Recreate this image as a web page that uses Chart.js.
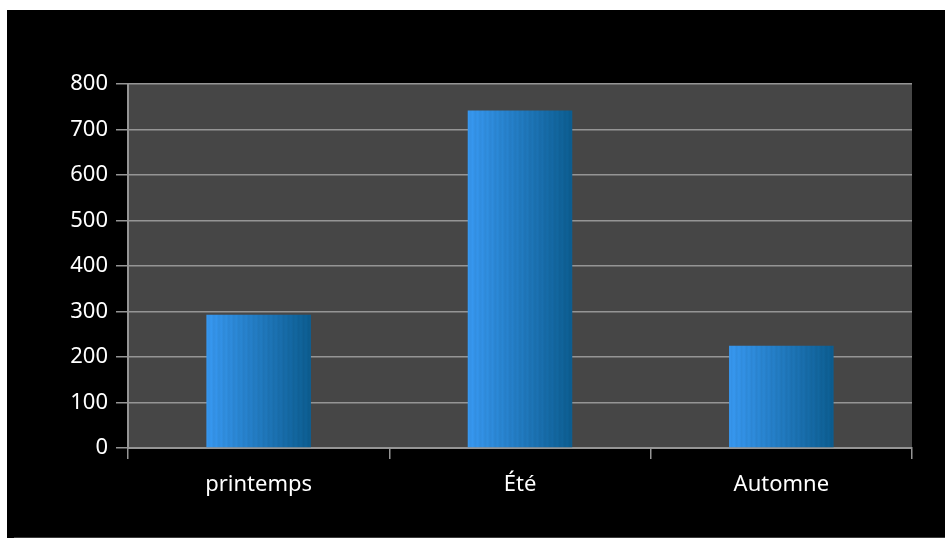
<!DOCTYPE html>
<html>
<head>
<meta charset="utf-8">
<script src="https://cdn.jsdelivr.net/npm/chart.js@4/dist/chart.umd.min.js"></script>
<style>
  html, body { margin: 0; padding: 0; background: #fff; width: 945px; height: 540px; overflow: hidden; }
  #wrap { position: absolute; left: 7px; top: 10px; width: 938px; height: 528px; background: #000; }
  #foot { position: absolute; left: 14px; top: 537px; width: 931px; height: 1px; background: #3c3c3c; }
</style>
</head>
<body>
<div id="wrap"><canvas id="chart1"></canvas></div>
<div id="foot"></div>
<script>
  "use strict";

  var categories = ["printemps", "Été", "Automne"];
  var values = [293, 742, 225];
  var yMin = 0, yMax = 800, yStep = 100;

  var fontFamily = "'Noto Sans', 'Liberation Sans', sans-serif";

  // plot area fill
  var plotBg = {
    id: 'plotBg',
    beforeDraw: function (chart) {
      var a = chart.chartArea, c = chart.ctx;
      c.save();
      c.fillStyle = '#464646';
      c.fillRect(a.left, a.top, a.right - a.left, a.bottom - a.top);
      c.restore();
    }
  };

  // striped blue gradient, per bar
  function barFill(context) {
    var chart = context.chart;
    var x = chart.scales.x;
    if (!chart.chartArea || !x) return '#2a85d0';
    var cw = (x.right - x.left) / categories.length;
    var w = cw * 0.4;
    var cx = x.getPixelForValue(context.dataIndex);
    var x0 = cx - w / 2;
    var g = chart.ctx.createLinearGradient(x0, 0, x0 + w, 0);
    var from = [56, 154, 244], to = [12, 94, 146];
    var n = Math.round(w / 2.5);
    for (var i = 0; i <= n; i++) {
      var t = i / n;
      var k = (i % 2 === 0) ? 1.0 : 0.95;
      var r = Math.round((from[0] + (to[0] - from[0]) * t) * k);
      var gg = Math.round((from[1] + (to[1] - from[1]) * t) * k);
      var b = Math.round((from[2] + (to[2] - from[2]) * t) * k);
      g.addColorStop(t, 'rgb(' + r + ',' + gg + ',' + b + ')');
    }
    return g;
  }

  var ctx = document.getElementById("chart1").getContext('2d');

  var myChart = new Chart(ctx, {
    type: 'bar',
    data: {
      labels: categories,
      datasets: [{
        data: values,
        backgroundColor: barFill,
        borderWidth: 0,
        barPercentage: 0.4,
        categoryPercentage: 1
      }]
    },
    options: {
      responsive: true,
      maintainAspectRatio: false,
      animation: false,
      layout: { padding: { top: 74, right: 33, left: 0, bottom: 0 } },
      plugins: {
        legend: { display: false },
        tooltip: { enabled: false }
      },
      scales: {
        x: {
          grid: {
            offset: true,
            drawOnChartArea: false,
            drawTicks: true,
            tickLength: 11,
            color: '#959595',
            lineWidth: 1.5
          },
          border: { color: '#959595', width: 2 },
          ticks: {
            color: '#ffffff',
            padding: 13,
            font: { family: fontFamily, size: 22 }
          },
          afterFit: function (scale) { scale.height = 90; }
        },
        y: {
          min: yMin,
          max: yMax,
          grid: {
            color: '#959595',
            lineWidth: 1.5,
            drawTicks: true,
            tickLength: 12
          },
          border: { color: '#959595', width: 2 },
          ticks: {
            stepSize: yStep,
            color: '#ffffff',
            padding: 8,
            font: { family: fontFamily, size: 22 }
          },
          afterFit: function (scale) { scale.width = 121; }
        }
      }
    },
    plugins: [plotBg]
  });
</script>
</body>
</html>
